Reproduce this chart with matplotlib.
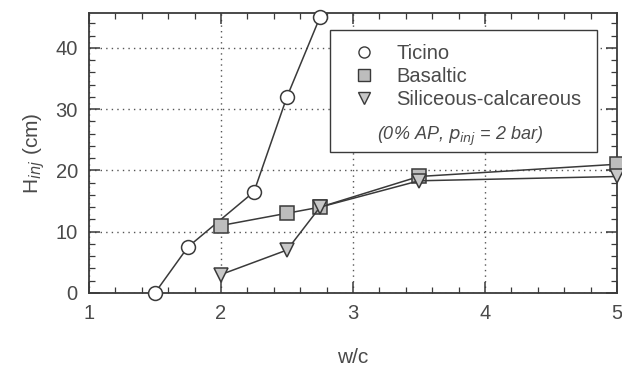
import numpy as np
import matplotlib.pyplot as plt
from matplotlib.lines import Line2D
from matplotlib.patches import Rectangle

plt.rcParams['font.family'] = ['Liberation Sans', 'DejaVu Sans']

ticino_x = [1.5, 1.75, 2.25, 2.5, 2.75]
ticino_y = [0, 7.5, 16.5, 32, 45]
basaltic_x = [2, 2.5, 2.75, 3.5, 5]
basaltic_y = [11, 13, 14, 19, 21]
siliceous_x = [2, 2.5, 2.75, 3.5, 5]
siliceous_y = [3, 7, 14, 18.3, 19]

ink = '#3a3a3a'
txt = '#4a4a4a'

fig = plt.figure(figsize=(6.22, 3.68), dpi=100)
ax = fig.add_axes([0.143, 0.204, 0.849, 0.761])

ax.plot(ticino_x, ticino_y, '-o', color=ink, lw=1.1, ms=10, mfc='white', mec=ink, mew=1.1, clip_on=False, zorder=3)
ax.plot(basaltic_x, basaltic_y, '-s', color=ink, lw=1.1, ms=9.5, mfc='#bdbdbd', mec=ink, mew=1.1, clip_on=False, zorder=3)
ax.plot(siliceous_x, siliceous_y, '-v', color=ink, lw=1.1, ms=10.5, mfc='#c8c8c8', mec=ink, mew=1.1, clip_on=False, zorder=3)

ax.set_xlim(1, 5)
ax.set_ylim(0, 45.7)
ax.set_xticks([1, 2, 3, 4, 5])
ax.set_yticks([0, 10, 20, 30, 40])
ax.set_xticks(np.arange(1, 5.01, 0.2), minor=True)
ax.set_yticks(np.arange(0, 45.7, 2), minor=True)
ax.tick_params(which='both', direction='in', top=True, right=True, colors=ink, labelcolor=txt, labelsize=14.5, pad=8)
ax.tick_params(which='major', length=8, width=1.1)
ax.tick_params(which='minor', length=4, width=0.9)
ax.grid(True, which='major', linestyle=(0, (1, 3)), color='#555555', lw=1.0)
for s in ax.spines.values():
    s.set_color(ink)
    s.set_linewidth(1.3)

ax.set_ylabel('H$_{inj}$ (cm)', color=txt, fontsize=15, labelpad=6)
ax.set_xlabel('w/c', color=txt, fontsize=15, labelpad=18)

# legend box
ax.add_patch(Rectangle((0.456, 0.504), 0.506, 0.436, transform=ax.transAxes, fill=True,
                       facecolor='white', edgecolor=ink, lw=1.0, zorder=4))
handles = [
    Line2D([], [], ls='none', marker='o', ms=8, mfc='white', mec=ink),
    Line2D([], [], ls='none', marker='s', ms=8, mfc='#bdbdbd', mec=ink),
    Line2D([], [], ls='none', marker='v', ms=9, mfc='#c8c8c8', mec=ink),
]
labels = ['Ticino', 'Basaltic', 'Siliceous-calcareous']
leg = ax.legend(handles, labels, loc='upper left', bbox_to_anchor=(0.475, 0.94), fontsize=14.5,
                frameon=False, handletextpad=1.1, labelspacing=0.2, borderpad=0.2, handlelength=1.0)
leg.set_zorder(5)
for t in leg.get_texts():
    t.set_color(txt)
ax.text(0.703, 0.56, '(0% AP, $p_{inj}$ = 2 bar)', transform=ax.transAxes, fontsize=13,
        style='italic', color=txt, ha='center', va='center', zorder=6)

fig.savefig('out.png', dpi=100)
